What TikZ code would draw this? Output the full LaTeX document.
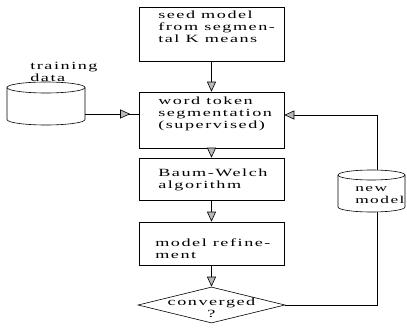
\documentclass[tikz,border=0pt]{standalone}
\usepackage{fontspec}
\setmainfont[FakeStretch=1.65,LetterSpace=14]{Liberation Serif}
\usetikzlibrary{arrows.meta,shapes.geometric,decorations.markings}
\begin{document}
\begin{tikzpicture}[x=1pt,y=-1pt,
  line width=0.6pt,
  every node/.style={font=\fontsize{11}{12}\selectfont},
  box/.style={draw, minimum width=145pt, inner sep=0pt},
  txt/.style={anchor=west, inner sep=0pt, align=left},
  arr/.style={-{Triangle[width=9pt,length=10pt,fill=gray!55]}},
  hole/.style={inner sep=0pt}]
\useasboundingbox (0,0) rectangle (407,332);

% boxes
\node[box, minimum height=54pt] (seed) at (211.5,34) {};
\node[box, minimum height=56pt] (wt) at (211.5,120) {};
\node[box, minimum height=42pt] (baum) at (211.5,179) {};
\node[box, minimum height=43pt] (ref) at (211.5,243.5) {};
\node[draw, diamond, minimum width=147pt, minimum height=36pt, inner sep=0pt] (dia) at (211.5,305) {};

% texts
\node[txt] (tseed) at (158,27) {seed model\\from segmen-\\tal K means};
\node[txt] (twt) at (158,114) {word token\\segmentation\\(supervised)};
\node[txt] (tbaum) at (158,180) {Baum-Welch\\algorithm};
\node[txt] (tref) at (155,249) {model refine-\\ment};
\node[inner sep=0pt, align=center] (tdia) at (211.5,308) {converged\\?};

% cylinders
\node[hole, minimum width=78pt, minimum height=43pt] (td) at (46,103.5) {};
\draw (46,87.5) ellipse [x radius=39, y radius=5.5];
\draw (7,87.5) -- (7,119.5) arc[start angle=180, end angle=0, x radius=39, y radius=5.5] -- (85,87.5);
\node[txt] (ttd) at (30,72) {training\\data};

\node[hole, minimum width=67pt, minimum height=42pt] (nm) at (371.5,191) {};
\draw (371.5,175) ellipse [x radius=33.5, y radius=5];
\draw (338,175) -- (338,207) arc[start angle=180, end angle=0, x radius=33.5, y radius=5] -- (405,175);
\node[txt, font=\fontsize{10.5}{12}\selectfont] (tnm) at (355,195) {new\\model};

% connectors
\draw[arr] (seed.south) -- (wt.north);
\draw[arr] (wt.south) -- (baum.north);
\draw[arr] (baum.south) -- (ref.north);
\draw[arr] (ref.south) -- (dia.north);
\draw[postaction={decorate},
  decoration={markings, mark=at position 0.84 with {\arrow{Triangle[width=9pt,length=10pt,fill=gray!55]}}}]
  ([yshift=-10.5pt]td.east) -- ([yshift=-10.5pt]td.east -| wt.west);
\draw[arr] ([xshift=5.5pt]nm.north) |- ([yshift=5pt]wt.east);
\draw (dia.east) -| ([xshift=5.5pt]nm.south);
\end{tikzpicture}
\end{document}
